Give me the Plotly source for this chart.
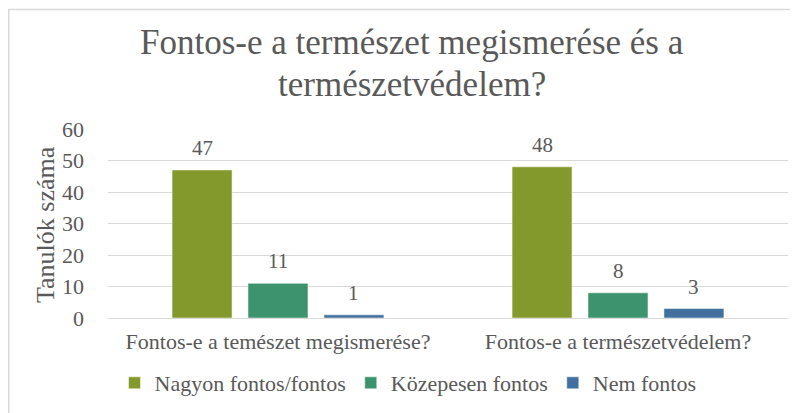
import plotly.graph_objects as go

categories = ["Fontos-e a temészet megismerése?", "Fontos-e a természetvédelem?"]
series_names = ["Nagyon fontos/fontos", "Közepesen fontos", "Nem fontos"]
nagyon = [47, 48]
kozepes = [11, 8]
nem = [1, 3]
colors = ["#84992B", "#3C936E", "#41709E"]
title_lines = ["Fontos-e a természet megismerése és a", "természetvédelem?"]
y_title = "Tanulók száma"
y_ticks = [0, 10, 20, 30, 40, 50, 60]

FONT = "Liberation Serif"
GRAY = "#595959"

# page has an 8px body margin: work in figure coordinates
W, H = 790, 405
L, R, T, B = 100, 10, 121, 95
PW, PH = W - L - R, H - T - B
BARGAP, GROUPGAP = 0.33, 0.21

fig = go.Figure()
for name, vals, col in zip(series_names, [nagyon, kozepes, nem], colors):
    fig.add_trace(go.Bar(
        x=categories, y=vals, name=name,
        marker=dict(color=col, line=dict(color="rgba(255,255,255,0.5)", width=1)),
        cliponaxis=False,
    ))

# value labels, placed at each bar's value through the axes
slot = PW / len(categories) * (1 - BARGAP) / len(series_names)
for i, vals in enumerate([nagyon, kozepes, nem]):
    for cat, v in zip(categories, vals):
        fig.add_annotation(x=cat, y=v, xref="x", yref="y", text=str(v),
                           xshift=(i - 1) * slot, yshift=22, yanchor="middle",
                           showarrow=False, font=dict(family=FONT, size=21, color=GRAY))

fig.update_layout(
    width=W, height=H,
    margin=dict(l=L, r=R, t=T, b=B, autoexpand=False),
    paper_bgcolor="white", plot_bgcolor="white",
    barmode="group", bargap=BARGAP, bargroupgap=GROUPGAP,
    font=dict(family=FONT, color=GRAY, size=21),
    showlegend=True,
    legend=dict(orientation="h", x=(400 - L) / PW, xanchor="center", y=-(375 - (T + PH)) / PH,
                yanchor="middle", font=dict(family=FONT, size=22, color=GRAY),
                traceorder="normal"),
    xaxis=dict(showgrid=False, showline=True, linecolor="#D9D9D9", linewidth=1, automargin=False,
               ticks="", tickfont=dict(family=FONT, size=22, color=GRAY),
               ticklabelstandoff=4),
    yaxis=dict(range=[0, 60], tickvals=y_ticks, showgrid=True, gridcolor="#D9D9D9", automargin=False,
               gridwidth=1, zeroline=False, showline=False, ticks="",
               tickfont=dict(family=FONT, size=22, color=GRAY), ticklabelstandoff=23),
)

fig.add_annotation(text=y_title, xref="paper", yref="paper", textangle=-90,
                   x=-(L - 37) / PW, xanchor="center", y=((T + PH) - 217) / PH, yanchor="middle",
                   showarrow=False, font=dict(family=FONT, size=26, color=GRAY))

for line, ypix in zip(title_lines, [34, 76]):
    fig.add_annotation(text=line, xref="paper", yref="paper",
                       x=(404 - L) / PW, xanchor="center",
                       y=1 + (T - ypix) / PH, yanchor="middle",
                       showarrow=False, font=dict(family=FONT, size=35, color=GRAY))

# chart frame (cropped at right and bottom)
fig.add_shape(type="rect", xref="paper", yref="paper",
              x0=-(L - 0.75) / PW, x1=1 + (R + 20) / PW,
              y0=-(B + 20) / PH, y1=1 + (T - 1.5) / PH,
              line=dict(color="#D9D9D9", width=1.5), layer="below")

fig.write_html("out.html")
